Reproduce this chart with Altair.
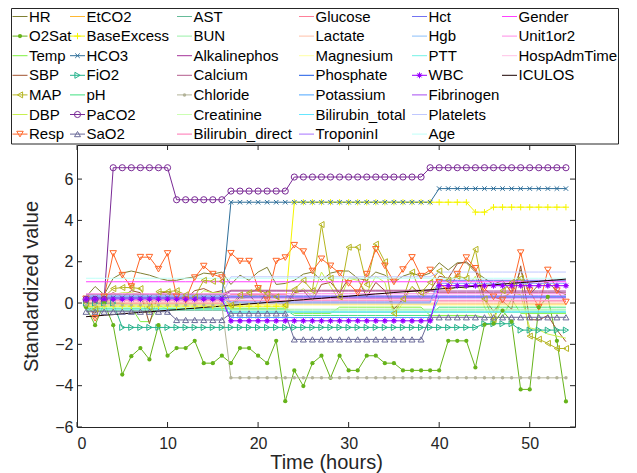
import altair as alt
import pandas as pd

T = list(range(1, 55))

NAMES = ["HR", "O2Sat", "Temp", "SBP", "MAP", "DBP", "Resp",
         "EtCO2", "BaseExcess", "HCO3", "FiO2", "pH", "PaCO2", "SaO2",
         "AST", "BUN", "Alkalinephos", "Calcium", "Chloride", "Creatinine", "Bilirubin_direct",
         "Glucose", "Lactate", "Magnesium", "Phosphate", "Potassium", "Bilirubin_total", "TroponinI",
         "Hct", "Hgb", "PTT", "WBC", "Fibrinogen", "Platelets", "Age",
         "Gender", "Unit1or2", "HospAdmTime", "ICULOS"]

COLORS = ["#808033", "#66B31A", "#80F040", "#A0522D", "#B5B520", "#C8F050", "#FF6628",
          "#FFB833", "#F5F500", "#2E6E99", "#26B38C", "#40E080", "#7A2A96", "#6B6B99",
          "#66BB99", "#99F0A8", "#A63399", "#B35C8C", "#B3B399", "#CCFFB3", "#FF73B3",
          "#FF8099", "#FFC0A8", "#FFFFA6", "#1A59E6", "#4DA6FF", "#66E6FF", "#A673FF",
          "#7373F2", "#8CBFFA", "#73F2E6", "#9900FF", "#A64DF2", "#C0C8FF", "#BFFFF8",
          "#FF40FF", "#FF8CE6", "#FFC2E6", "#1A0000"]

# ---- hourly vitals ----
HR = [0.3, 0.8, 0.4, 1.2, 1.45, 1.55, 1.45, 1.35, 1.2, 1.1,
      1.1, 1.2, 1.27, 1.45, 1.4, 1.5, 0.9, 1.35, 1.1, 1.5,
      1.73, 0.9, 0.95, 1.1, 1.4, 1.5, 1.1, 1.45, 1.55, 1.55,
      1.2, 1.1, 1.5, 1.35, 1.0, 1.3, 1.45, 1.3, 1.45, 1.95,
      1.6, 1.95, 1.95, 1.5, 1.2, 0.9, 1.1, 0.5, 1.6, 0.4,
      0.9, 1.0, 0.6, 0.4]
O2Sat = [-0.2, -1.07, 0.0, -1.07, -3.46, -2.57, -2.18, -2.73, -1.07, -2.55,
         -2.18, -2.18, -1.83, -2.91, -2.91, -2.55, -2.91, -2.18, -2.18, -2.55,
         -2.91, -1.83, -4.75, -3.26, -4.02, -2.91, -2.55, -3.62, -2.55, -3.26,
         -3.26, -2.55, -2.55, -2.91, -2.91, -3.26, -3.26, -3.26, -3.26, -3.26,
         -1.83, -1.83, -1.83, -3.12, -1.05, -1.0, -0.37, -0.9, -4.18, -4.18,
         -0.2, 0.3, -1.83, -4.76]
Temp = [0.0, 0.0, 0.1, 0.0, 0.0, -0.2, -0.9, -0.9, -0.1, -0.3,
        -0.3, -0.3, -0.3, -0.3, -0.3, -0.3, -0.25, -0.25, -0.25, -0.25,
        -0.25, -0.25, -0.25, -0.5, -0.5, -0.5, -0.5, -0.5, -0.2, -0.2,
        -0.2, -0.2, -0.2, -0.2, -0.2, -0.2, -0.2, -0.2, -0.6, -0.6,
        -0.6, -0.6, -0.6, -0.6, -0.7, -0.7, -0.7, 0.2, -0.5, -0.5,
        -0.5, -0.5, -0.5, -0.5]
SBP = [-0.2, -0.5, 0.3, 0.5, 0.3, 0.6, 0.5, -1.0, 0.45, 0.55,
       0.4, 0.2, 0.6, 0.7, 0.5, 0.6, -0.2, 0.3, 0.4, -0.1,
       0.6, 0.3, -0.2, 0.5, 0.6, 0.1, 0.9, 1.0, 0.5, 1.2,
       1.2, 0.3, 1.0, 0.6, -0.3, 0.2, 0.8, 0.4, 0.6, 1.3,
       1.2, 1.9, 2.0, 1.6, 0.2, -0.4, 0.1, -0.3, 1.8, -0.8,
       -0.82, -0.6, -1.3, -1.87]
MAP = [0.0, -0.3, 0.3, 0.7, 0.75, 0.75, 0.7, -0.2, 0.55, 0.55,
       0.6, 0.4, 0.3, 1.1, 1.05, 1.05, -0.1, 0.4, 0.5, 0.66,
       0.45, 0.3, -0.1, 0.66, 1.1, 0.6, 3.8, 1.2, 0.3, 2.7,
       2.7, 0.9, 2.85, 2.0, -0.5, 0.2, 1.5, 0.5, 1.0, 1.55,
       1.1, 1.3, 1.2, 2.6, 0.2, -0.8, 0.6, 1.0, 1.2, -1.6,
       -1.75, -1.95, -2.2, -2.2]
DBP = [0.1, -0.4, 0.2, 0.4, 0.5, 0.5, 0.4, -0.5, 0.3, 0.4,
       0.3, 0.1, 0.2, 0.6, 0.5, 0.5, -0.3, 0.2, 0.3, 0.4,
       0.2, 0.1, -0.3, 0.4, 0.7, 0.3, 1.5, 0.8, 0.1, 1.2,
       1.1, 0.5, 1.3, 1.0, -0.6, 0.0, 0.8, 0.2, 0.6, 0.9,
       0.6, 0.8, 0.7, 1.3, -0.2, -0.9, 0.3, 0.5, 0.4, -1.2,
       -1.3, -1.5, -1.6, -1.7]
Resp = [0.2, -0.74, 0.3, 2.4, 1.35, 0.8, 2.22, 2.22, 1.64, 2.4,
        0.3, 0.15, 1.23, 1.79, 1.4, 1.23, 2.41, 2.03, 2.03, 0.71,
        0.15, 2.03, 2.2, 2.8, 2.49, 1.55, 2.14, 1.8, 1.44, 0.95,
        0.5, 1.4, 2.6, 1.8, 1.02, 1.62, 2.21, 1.3, 1.6, 1.0,
        0.6, 1.4, 2.2, 1.68, 0.7, 0.3, 0.15, 0.6, 2.44, 0.6,
        -0.2, 1.6, 0.6, 0.05]
ICULOS = [-0.66, -0.63, -0.59, -0.56, -0.52, -0.49, -0.45, -0.42, -0.39, -0.35,
          -0.32, -0.28, -0.25, -0.21, -0.18, -0.15, -0.11, -0.08, -0.04, -0.01,
          0.03, 0.06, 0.09, 0.13, 0.16, 0.20, 0.23, 0.27, 0.30, 0.33,
          0.37, 0.40, 0.44, 0.47, 0.51, 0.54, 0.57, 0.61, 0.64, 0.68,
          0.71, 0.75, 0.78, 0.81, 0.85, 0.88, 0.92, 0.95, 0.99, 1.02,
          1.05, 1.09, 1.12, 1.16]

# ---- forward-filled labs: (first hour, last hour, value) ----
EtCO2_r = [(1, 54, -0.05)]
BaseExcess_r = [(1, 23, -0.15), (24, 43, 4.88), (44, 45, 4.4), (46, 54, 4.64)]
HCO3_r = [(1, 16, 0.25), (17, 39, 4.88), (40, 54, 5.54)]
FiO2_r = [(1, 4, 0.0), (5, 44, -1.18), (45, 48, -1.0), (49, 54, -1.31)]
pH_r = [(1, 16, -0.25), (17, 23, -0.3), (24, 39, -0.6), (40, 54, -0.2)]
PaCO2_r = [(1, 3, 0.18), (4, 10, 6.55), (11, 16, 5.0), (17, 23, 5.42), (24, 38, 6.1), (39, 54, 6.55)]
SaO2_r = [(1, 10, -0.42), (11, 16, -0.82), (17, 23, -0.5), (24, 38, -1.76), (39, 54, -0.69)]
AST_r = [(1, 16, -0.35), (17, 54, -0.45)]
BUN_r = [(1, 16, -0.1), (17, 54, -0.3)]
Alkalinephos_r = [(1, 16, 0.3), (17, 54, 0.58)]
Calcium_r = [(1, 16, 0.42), (17, 39, 0.62), (40, 54, 0.5)]
Chloride_r = [(1, 16, -0.1), (17, 54, -3.62)]
Creatinine_r = [(1, 16, -0.2), (17, 54, -0.35)]
Bilirubin_direct_r = [(1, 54, 0.12)]
Glucose_r = [(1, 16, 0.0), (17, 23, 0.42), (24, 39, 0.2), (40, 54, 0.1)]
Lactate_r = [(1, 16, 0.05), (17, 54, 0.0)]
Magnesium_r = [(1, 54, -0.1)]
Phosphate_r = [(1, 16, 0.25), (17, 54, 0.3)]
Potassium_r = [(1, 16, 0.2), (17, 39, -0.7), (40, 54, 0.3)]
Bilirubin_total_r = [(1, 16, 0.3), (17, 54, -0.4)]
TroponinI_r = [(1, 54, 0.35)]
Hct_r = [(1, 16, 0.35), (17, 39, 0.05), (40, 54, 1.1)]
Hgb_r = [(1, 16, 0.3), (17, 39, 0.0), (40, 54, 0.95)]
PTT_r = [(1, 16, -0.3), (17, 54, -0.45)]
WBC_r = [(1, 16, 0.18), (17, 39, -0.86), (40, 54, 0.84)]
Fibrinogen_r = [(1, 54, 0.25)]
Platelets_r = [(1, 16, 0.38), (17, 39, 1.27), (40, 54, 1.5)]
Age_r = [(1, 54, 1.2)]
Gender_r = [(1, 54, 1.03)]
Unit1or2_r = [(1, 54, 0.45)]
HospAdmTime_r = [(1, 54, 0.15)]


def expand(runs):
    vals = []
    for a, b, v in runs:
        vals += [v] * (b - a + 1)
    return vals


SERIES = {
    "HR": HR, "O2Sat": O2Sat, "Temp": Temp, "SBP": SBP, "MAP": MAP, "DBP": DBP, "Resp": Resp,
    "EtCO2": expand(EtCO2_r), "BaseExcess": expand(BaseExcess_r), "HCO3": expand(HCO3_r),
    "FiO2": expand(FiO2_r), "pH": expand(pH_r), "PaCO2": expand(PaCO2_r), "SaO2": expand(SaO2_r),
    "AST": expand(AST_r), "BUN": expand(BUN_r), "Alkalinephos": expand(Alkalinephos_r),
    "Calcium": expand(Calcium_r), "Chloride": expand(Chloride_r), "Creatinine": expand(Creatinine_r),
    "Bilirubin_direct": expand(Bilirubin_direct_r), "Glucose": expand(Glucose_r),
    "Lactate": expand(Lactate_r), "Magnesium": expand(Magnesium_r), "Phosphate": expand(Phosphate_r),
    "Potassium": expand(Potassium_r), "Bilirubin_total": expand(Bilirubin_total_r),
    "TroponinI": expand(TroponinI_r), "Hct": expand(Hct_r), "Hgb": expand(Hgb_r), "PTT": expand(PTT_r),
    "WBC": expand(WBC_r), "Fibrinogen": expand(Fibrinogen_r), "Platelets": expand(Platelets_r),
    "Age": expand(Age_r), "Gender": expand(Gender_r), "Unit1or2": expand(Unit1or2_r),
    "HospAdmTime": expand(HospAdmTime_r), "ICULOS": ICULOS,
}

PLUS = "M-1,0L1,0M0,-1L0,1"
XMARK = "M-1,-1L1,1M-1,1L1,-1"
STAR = "M-1,0L1,0M0,-1L0,1M-0.7,-0.7L0.7,0.7M-0.7,0.7L0.7,-0.7"
# name, shape, filled, size, stroke width
MARKERS = [
    ("O2Sat", "circle", True, 18, 1),
    ("BaseExcess", PLUS, False, 40, 1),
    ("HCO3", XMARK, False, 20, 1),
    ("FiO2", "triangle-right", False, 36, 1),
    ("MAP", "triangle-left", False, 36, 1),
    ("Resp", "triangle-down", False, 42, 1),
    ("PaCO2", "circle", False, 38, 1),
    ("SaO2", "triangle-up", False, 36, 1),
    ("Chloride", "circle", True, 12, 1),
    ("WBC", "circle", True, 14, 1),
    ("WBC", STAR, False, 36, 1),
]

COLOR = dict(zip(NAMES, COLORS))

W, H = 498, 282
X0, Y0 = 77, 145  # page position of plot origin

rows = []
for k, n in enumerate(NAMES):
    for t, v in zip(T, SERIES[n]):
        rows.append({"name": n, "k": k, "t": t, "v": v, "color": COLOR[n]})
df = pd.DataFrame(rows)

prow = []
for n, shp, filled, size, sw in MARKERS:
    for t, v in zip(T, SERIES[n]):
        prow.append({"name": n, "t": t, "v": v, "color": COLOR[n], "shape": shp,
                     "filled": filled, "size": size, "sw": sw})
dfp = pd.DataFrame(prow)

# legend layout
COL_X = [12.5, 70.0, 177.0, 299.0, 412.0, 502.0]
leg = []
for i, n in enumerate(NAMES):
    c, r = i // 7, i % 7
    x0 = COL_X[c] - X0
    y = 16.5 + 19.6 * r - Y0
    leg.append({"name": n, "color": COLOR[n], "x0": x0, "x1": x0 + 15, "xm": x0 + 7.5,
                "tx": x0 + 16.5, "y": y})
dfl = pd.DataFrame(leg)
lm = []
for n, shp, filled, size, sw in MARKERS:
    r = dfl[dfl.name == n].iloc[0]
    lm.append({"name": n, "xm": r.xm, "y": r.y, "color": COLOR[n], "shape": shp,
               "filled": filled, "size": size, "sw": sw})
dflm = pd.DataFrame(lm)
box = pd.DataFrame([{"x": 11.5 - X0, "x2": 618.5 - X0, "y": 8.5 - Y0, "y2": 144.0 - Y0}])

AX = "#262626"
xs = alt.Scale(domain=[0, 55], nice=False, zero=False)
ys = alt.Scale(domain=[-6, 7.65], nice=False, zero=False)
xaxis = alt.Axis(values=[0, 10, 20, 30, 40, 50], ticks=False, tickSize=0, domain=False, grid=False,
                 labelFont="Liberation Sans", labelFontSize=16, labelColor=AX, labelPadding=8,
                 title="Time (hours)", titleFont="Liberation Sans", titleFontSize=20,
                 titleFontWeight="normal", titleColor=AX, titlePadding=1)
yaxis = alt.Axis(values=[-6, -4, -2, 0, 2, 4, 6], ticks=False, tickSize=0, domain=False, grid=False,
                 labelFont="Liberation Sans", labelFontSize=16, labelColor=AX, labelPadding=4,
                 title="Standardized value", titleFont="Liberation Sans", titleFontSize=20,
                 titleFontWeight="normal", titleColor=AX, titlePadding=13)
X = alt.X("t:Q", scale=xs, axis=xaxis)
Y = alt.Y("v:Q", scale=ys, axis=yaxis)

lines = alt.Chart(df).mark_line(strokeWidth=1).encode(
    x=X, y=Y, detail="name:N", color=alt.Color("color:N", scale=None))

pts_open = alt.Chart(dfp[~dfp.filled]).mark_point(filled=False, opacity=1).encode(
    x=X, y=Y, shape=alt.Shape("shape:N", scale=None), size=alt.Size("size:Q", scale=None),
    strokeWidth=alt.StrokeWidth("sw:Q", scale=None), color=alt.Color("color:N", scale=None))
pts_fill = alt.Chart(dfp[dfp.filled]).mark_point(filled=True, opacity=1).encode(
    x=X, y=Y, shape=alt.Shape("shape:N", scale=None), size=alt.Size("size:Q", scale=None),
    color=alt.Color("color:N", scale=None))

XT = [0, 10, 20, 30, 40, 50]
YT = [-6, -4, -2, 0, 2, 4, 6]
dfx = pd.DataFrame({"t": XT})
dfy = pd.DataFrame({"v": YT})
tick_l = alt.Chart(dfy).mark_rule(color=AX).encode(y=Y, x=alt.value(0), x2=alt.value(5))
tick_r = alt.Chart(dfy).mark_rule(color=AX).encode(y=Y, x=alt.value(W - 5), x2=alt.value(W))
tick_b = alt.Chart(dfx).mark_rule(color=AX).encode(x=X, y=alt.value(H - 5), y2=alt.value(H))
tick_t = alt.Chart(dfx).mark_rule(color=AX).encode(x=X, y=alt.value(0), y2=alt.value(5))

PX = lambda f: alt.X(f, type="quantitative", scale=None, axis=None)
PY = lambda f: alt.Y(f, type="quantitative", scale=None, axis=None)

leg_box = alt.Chart(box).mark_rect(fill="white", stroke=AX, strokeWidth=1).encode(
    x=PX("x"), x2="x2", y=PY("y"), y2="y2")
leg_lines = alt.Chart(dfl).mark_rule(strokeWidth=1).encode(
    x=PX("x0"), x2="x1", y=PY("y"), color=alt.Color("color:N", scale=None))
leg_open = alt.Chart(dflm[~dflm.filled]).mark_point(filled=False, opacity=1).encode(
    x=PX("xm"), y=PY("y"), shape=alt.Shape("shape:N", scale=None), size=alt.Size("size:Q", scale=None),
    strokeWidth=alt.StrokeWidth("sw:Q", scale=None), color=alt.Color("color:N", scale=None))
leg_fill = alt.Chart(dflm[dflm.filled]).mark_point(filled=True, opacity=1).encode(
    x=PX("xm"), y=PY("y"), shape=alt.Shape("shape:N", scale=None), size=alt.Size("size:Q", scale=None),
    color=alt.Color("color:N", scale=None))
leg_text = alt.Chart(dfl).mark_text(align="left", baseline="middle", font="Liberation Sans",
                                    fontSize=15, color="#000000").encode(
    x=PX("tx"), y=PY("y"), text="name:N")

chart = alt.layer(
    lines, pts_open, pts_fill, tick_l, tick_r, tick_b, tick_t,
    leg_box, leg_lines, leg_open, leg_fill, leg_text
).properties(
    width=W, height=H,
    padding={"left": X0 - 8, "top": Y0 - 8, "right": 45, "bottom": 46},
    autosize=alt.AutoSizeParams(type="none"),
    background="white",
).configure_view(stroke=AX, strokeWidth=1)

chart.save("out.html", embed_options={"renderer": "svg", "actions": False})
